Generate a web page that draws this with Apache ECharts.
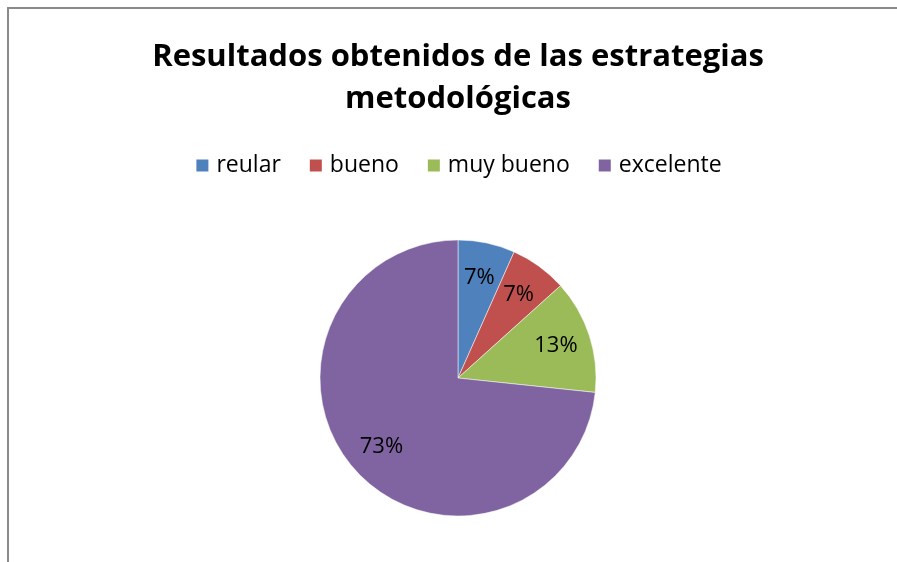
<!DOCTYPE html>
<html>
<head>
<meta charset="utf-8">
<script src="https://cdn.jsdelivr.net/npm/echarts@6/dist/echarts.min.js"></script>
<style>
  html, body { margin: 0; padding: 0; background: #fff; overflow: hidden; }
  #frame {
    position: absolute; left: 7px; top: 7px;
    border-left: 2px solid #8a8a8a; border-top: 2px solid #8a8a8a;
  }
  #chart { width: 898px; height: 560px; }
</style>
</head>
<body>
<div id="frame"><div id="chart"></div></div>
<script>
// categorías y valores (número de respuestas)
const categorias = ['reular', 'bueno', 'muy bueno', 'excelente'];
const valores = [1, 1, 2, 11];
const colores = ['#4F81BD', '#C0504D', '#9BBB59', '#8064A2'];

const titulo = 'Resultados obtenidos de las estrategias\nmetodológicas';

const chart = echarts.init(document.getElementById('chart'));

const datos = categorias.map((nombre, i) => ({ name: nombre, value: valores[i] }));

const option = {
    backgroundColor: '#fff',
    color: colores,
    animation: false,
    title: {
        text: titulo,
        left: 'center',
        top: 22,
        textStyle: {
            fontFamily: 'Open Sans',
            fontWeight: 'bold',
            fontSize: 31,
            lineHeight: 42,
            color: '#000'
        }
    },
    legend: {
        data: categorias,
        top: 140,
        left: 'center',
        icon: 'rect',
        itemWidth: 14,
        itemHeight: 14,
        itemGap: 27,
        textStyle: {
            fontFamily: 'Open Sans',
            fontSize: 23,
            color: '#000',
            padding: [0, 0, 0, 2]
        }
    },
    series: [
        {
            type: 'pie',
            center: [449, 369],
            radius: [0, 138],
            startAngle: 90,
            data: datos,
            label: { show: false },
            labelLine: { show: false },
            itemStyle: { borderColor: '#fff', borderWidth: 0.5 }
        },
        {
            // capa transparente sólo para colocar las etiquetas
            type: 'pie',
            center: [449, 369],
            radius: [62, 138],
            startAngle: 90,
            silent: true,
            legendHoverLink: false,
            data: datos,
            itemStyle: { color: 'rgba(0,0,0,0)' },
            label: {
                show: true,
                position: 'inside',
                formatter: p => Math.round(p.percent) + '%',
                fontFamily: 'Open Sans',
                fontSize: 22,
                color: '#000'
            },
            labelLine: { show: false }
        }
    ]
};

chart.setOption(option);
</script>
</body>
</html>
